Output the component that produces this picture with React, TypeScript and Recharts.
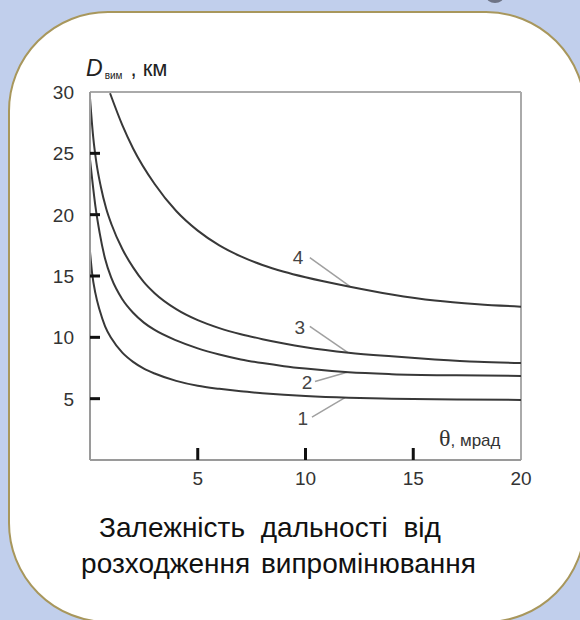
import React from 'react';
import { LineChart, Line, XAxis, YAxis, ReferenceLine, ReferenceDot } from 'recharts';

const curve1 = [
  { t: 0, v: 17 }, { t: 0.1, v: 15.2 }, { t: 0.25, v: 13.6 }, { t: 0.45, v: 12.2 },
  { t: 0.7, v: 10.9 }, { t: 1, v: 9.9 }, { t: 1.5, v: 8.75 }, { t: 2, v: 8.0 },
  { t: 2.5, v: 7.45 }, { t: 3, v: 7.05 }, { t: 4, v: 6.45 }, { t: 5, v: 6.05 },
  { t: 6, v: 5.8 }, { t: 7, v: 5.6 }, { t: 8, v: 5.45 }, { t: 9, v: 5.32 },
  { t: 10, v: 5.22 }, { t: 12, v: 5.08 }, { t: 14, v: 5.0 }, { t: 17, v: 4.93 },
  { t: 20, v: 4.9 },
];
const curve2 = [
  { t: 0, v: 24.5 }, { t: 0.1, v: 22.9 }, { t: 0.25, v: 20.7 }, { t: 0.45, v: 18.5 },
  { t: 0.7, v: 16.4 }, { t: 1, v: 14.8 }, { t: 1.5, v: 13.1 }, { t: 2, v: 12.0 },
  { t: 2.5, v: 11.2 }, { t: 3, v: 10.6 }, { t: 4, v: 9.75 }, { t: 5, v: 9.1 },
  { t: 6, v: 8.6 }, { t: 7, v: 8.2 }, { t: 8, v: 7.9 }, { t: 9, v: 7.65 },
  { t: 10, v: 7.45 }, { t: 12, v: 7.15 }, { t: 14, v: 7.0 }, { t: 17, v: 6.9 },
  { t: 20, v: 6.85 },
];
const curve3 = [
  { t: 0, v: 29.5 }, { t: 0.15, v: 26.3 }, { t: 0.3, v: 24.2 }, { t: 0.5, v: 22.3 },
  { t: 0.75, v: 20.5 }, { t: 1, v: 19.2 }, { t: 1.5, v: 17.2 }, { t: 2, v: 15.7 },
  { t: 2.5, v: 14.5 }, { t: 3, v: 13.6 }, { t: 4, v: 12.3 }, { t: 5, v: 11.4 },
  { t: 6, v: 10.75 }, { t: 7, v: 10.25 }, { t: 8, v: 9.85 }, { t: 9, v: 9.5 },
  { t: 10, v: 9.2 }, { t: 12, v: 8.75 }, { t: 14, v: 8.45 }, { t: 16, v: 8.2 },
  { t: 18, v: 8.0 }, { t: 20, v: 7.9 },
];
const curve4 = [
  { t: 0.93, v: 29.9 }, { t: 1.5, v: 27.3 }, { t: 2, v: 25.4 }, { t: 3, v: 22.5 },
  { t: 4, v: 20.3 }, { t: 5, v: 18.7 }, { t: 6, v: 17.5 }, { t: 7, v: 16.6 },
  { t: 8, v: 15.9 }, { t: 9, v: 15.35 }, { t: 10, v: 14.9 }, { t: 12, v: 14.15 },
  { t: 14, v: 13.5 }, { t: 16, v: 13.0 }, { t: 18, v: 12.7 }, { t: 20, v: 12.5 },
];

const xTicks = [5, 10, 15, 20];
const yTicks = [5, 10, 15, 20, 25, 30];
const xMarked = [5, 10, 15];
const yMarked = [5, 10, 15, 20, 25];

const curveLabels = [
  { id: '4', tx: 9.65, ty: 16.5, x1: 10.2, y1: 16.5, x2: 12.06, y2: 14.15 },
  { id: '3', tx: 9.74, ty: 10.8, x1: 10.2, y1: 10.9, x2: 11.97, y2: 8.75 },
  { id: '2', tx: 10.07, ty: 6.3, x1: 10.44, y1: 6.4, x2: 11.93, y2: 7.15 },
  { id: '1', tx: 9.88, ty: 3.4, x1: 10.3, y1: 3.5, x2: 11.83, y2: 5.08 },
];

const series = [curve1, curve2, curve3, curve4];

const FONT = '"Liberation Sans", Arial, sans-serif';

const YTick = (props: any) => {
  const { x, y, payload } = props;
  const marked = yMarked.includes(payload.value);
  return (
    <g>
      {marked && <line x1={x} y1={y} x2={x + 10} y2={y} stroke="#111" strokeWidth={3} />}
      <text x={x - 16} y={y} dy="0.36em" textAnchor="end" fontSize={19} fill="#333" fontFamily={FONT}>
        {payload.value}
      </text>
    </g>
  );
};

const XTick = (props: any) => {
  const { x, y, payload } = props;
  const marked = xMarked.includes(payload.value);
  return (
    <g>
      {marked && <line x1={x} y1={y} x2={x} y2={y - 12} stroke="#111" strokeWidth={3} />}
      <text x={x} y={y + 25} textAnchor="middle" fontSize={19} fill="#333" fontFamily={FONT}>
        {payload.value}
      </text>
    </g>
  );
};

export default function App() {
  return (
    <div style={{ position: 'absolute', left: 0, top: 0, width: 580, height: 620, overflow: 'hidden', background: '#c1cfec', fontFamily: FONT }}>
      <div style={{ position: 'absolute', left: 486, top: -11, width: 18, height: 14, borderRadius: '50%', background: '#6e7486' }} />
      <div
        style={{
          position: 'absolute', left: 8, top: 11, width: 578, height: 612,
          borderRadius: 100, border: '2px solid #a8975c', background: '#ffffff', boxSizing: 'border-box',
        }}
      />
      <div style={{ position: 'absolute', left: 0, top: 0 }}>
        <LineChart width={580} height={620} margin={{ top: 92, right: 59, bottom: 130, left: 50 }}>
          <XAxis
            type="number" dataKey="t" domain={[0, 20]} ticks={xTicks} allowDataOverflow
            height={30} stroke="#9a9a9a" strokeWidth={2} tickLine={false} tickSize={0} tickMargin={0}
            tick={<XTick />} interval={0}
          />
          <YAxis
            type="number" dataKey="v" domain={[0, 30]} ticks={yTicks} allowDataOverflow
            width={40} stroke="#9a9a9a" strokeWidth={2} tickLine={false} tickSize={0} tickMargin={0}
            tick={<YTick />} interval={0}
          />
          <ReferenceLine y={30} stroke="#aaaaaa" strokeWidth={2} />
          <ReferenceLine x={20} stroke="#aaaaaa" strokeWidth={2} />
          {curveLabels.map((c) => (
            <ReferenceLine
              key={'l' + c.id}
              segment={[{ x: c.x1, y: c.y1 }, { x: c.x2, y: c.y2 }]}
              stroke="#a0a0a0" strokeWidth={1.5}
            />
          ))}
          {series.map((d, i) => (
            <Line
              key={i} data={d} dataKey="v" type="monotone" stroke="#383838" strokeWidth={2}
              dot={false} activeDot={false} isAnimationActive={false}
            />
          ))}
          {curveLabels.map((c) => (
            <ReferenceDot
              key={'t' + c.id} x={c.tx} y={c.ty} r={0} fill="none" stroke="none"
              label={{ value: c.id, position: 'center', fontSize: 19, fill: '#444', fontFamily: FONT }}
            />
          ))}
        </LineChart>
      </div>
      <div style={{ position: 'absolute', left: 86, top: 55, whiteSpace: 'nowrap', color: '#222' }}>
        <span style={{ fontStyle: 'italic', fontSize: 23 }}>D</span>
        <span style={{ fontSize: 10, position: 'relative', top: 3, marginLeft: 2 }}>вим</span>
        <span style={{ fontSize: 22, marginLeft: 8 }}>, км</span>
      </div>
      <div style={{ position: 'absolute', left: 439, top: 425, whiteSpace: 'nowrap', color: '#333' }}>
        <span style={{ fontSize: 24, fontFamily: '"Liberation Serif", serif' }}>θ</span>
        <span style={{ fontSize: 17 }}>, мрад</span>
      </div>
      <div style={{ position: 'absolute', left: 0, width: 540, top: 510, textAlign: 'center', fontSize: 28, lineHeight: '36px', color: '#111', wordSpacing: 8 }}>
        Залежність дальності від
      </div>
      <div style={{ position: 'absolute', left: 0, width: 557, top: 546, textAlign: 'center', fontSize: 28, lineHeight: '36px', color: '#111', wordSpacing: 3 }}>
        розходження випромінювання
      </div>
    </div>
  );
}
